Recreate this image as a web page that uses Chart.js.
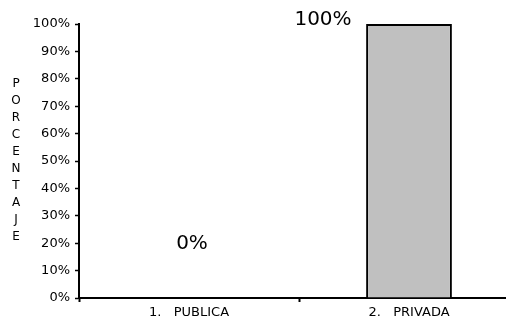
<!DOCTYPE html>
<html>
<head>
<meta charset="utf-8">
<script src="https://cdn.jsdelivr.net/npm/chart.js@4"></script>
<style>
  html, body { margin: 0; padding: 0; background: #fff; overflow: hidden; }
  #wrap { width: 506px; height: 325px; overflow: hidden; }
</style>
</head>
<body>
<div id="wrap"><canvas id="chartTipo" width="519" height="325"></canvas></div>
<script>
const categorias = ["1.   PUBLICA", "2.   PRIVADA"];
const porcentajes = [0, 100];
const etiquetas = ["0%", "100%"];
const tituloY = "PORCENTAJE";

const fuente = "'DejaVu Sans', Verdana, sans-serif";

// etiquetas de datos y titulo vertical letra por letra
const extras = {
    id: "extras",
    afterDatasetsDraw(chart) {
        const ctx = chart.ctx;
        const meta = chart.getDatasetMeta(0);
        const y = chart.scales.y;
        ctx.save();
        ctx.fillStyle = "#000";
        ctx.font = "20px " + fuente;
        ctx.textAlign = "center";
        ctx.textBaseline = "middle";
        meta.data.forEach((bar, i) => {
            if (porcentajes[i] > 0) {
                ctx.fillText(etiquetas[i], bar.x - 86, y.getPixelForValue(porcentajes[i]) - 4);
            } else {
                ctx.fillText(etiquetas[i], bar.x + 3, y.getPixelForValue(porcentajes[i]) - 54);
            }
        });
        ctx.font = "12px " + fuente;
        tituloY.split("").forEach((letra, i) => {
            ctx.fillText(letra, 16, 84 + i * 17);
        });
        ctx.restore();
    },
};

new Chart(document.getElementById("chartTipo"), {
    type: "bar",
    data: {
        labels: categorias,
        datasets: [
            {
                data: porcentajes,
                backgroundColor: "#c0c0c0",
                borderColor: "#000",
                borderWidth: 2,
                barPercentage: 0.39,
                categoryPercentage: 1,
            },
        ],
    },
    options: {
        responsive: false,
        animation: false,
        layout: { padding: { top: 24, left: 0, right: 0, bottom: 0 } },
        plugins: {
            legend: { display: false },
            tooltip: { enabled: false },
        },
        scales: {
            y: {
                min: 0,
                max: 100,
                afterFit: (scale) => { scale.width = 79; },
                ticks: {
                    stepSize: 10,
                    color: "#000",
                    font: { family: fuente, size: 13 },
                    padding: 5,
                    callback: (v) => v + "%",
                },
                grid: {
                    drawOnChartArea: false,
                    color: "#000",
                    tickLength: 4,
                    tickWidth: 1.5,
                },
                border: { color: "#000", width: 2 },
            },
            x: {
                afterFit: (scale) => { scale.height = 27; },
                ticks: {
                    color: "#000",
                    font: { family: fuente, size: 13 },
                    padding: 3,
                },
                grid: {
                    offset: true,
                    drawOnChartArea: false,
                    color: "#000",
                    tickLength: 4,
                    tickWidth: 2,
                },
                border: { color: "#000", width: 2 },
            },
        },
    },
    plugins: [extras],
});
</script>
</body>
</html>
